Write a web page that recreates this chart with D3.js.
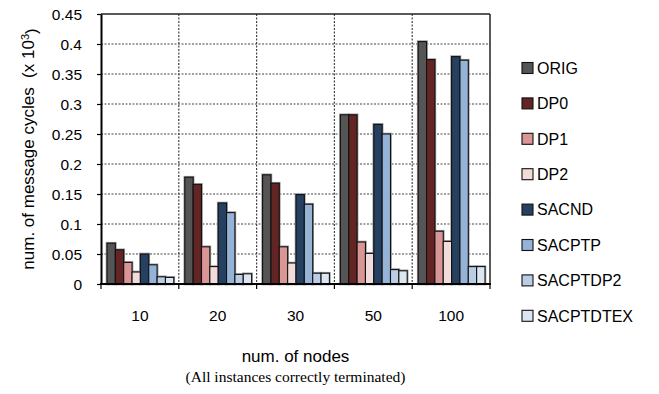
<!DOCTYPE html>
<html>
<head>
<meta charset="utf-8">
<script src="https://cdn.jsdelivr.net/npm/d3@7"></script>
<style>
  html, body { margin: 0; padding: 0; background: #fff; }
  svg { display: block; }
  text { font-family: "Liberation Sans", Arial, Helvetica, sans-serif; fill: #000; }
</style>
</head>
<body>
<svg id="chart" width="659" height="394"></svg>
<script>
// Message cycles (x 10^3) per node count, for each algorithm variant
const categories = ["10", "20", "30", "50", "100"];
const seriesNames = ["ORIG", "DP0", "DP1", "DP2", "SACND", "SACPTP", "SACPTDP2", "SACPTDTEX"];
const ORIG      = [0.068, 0.178, 0.182, 0.282, 0.404];
const DP0       = [0.057, 0.166, 0.168, 0.282, 0.374];
const DP1       = [0.036, 0.062, 0.062, 0.070, 0.088];
const DP2       = [0.020, 0.029, 0.035, 0.051, 0.071];
const SACND     = [0.050, 0.135, 0.149, 0.266, 0.379];
const SACPTP    = [0.032, 0.119, 0.133, 0.250, 0.373];
const SACPTDP2  = [0.012, 0.016, 0.018, 0.024, 0.029];
const SACPTDTEX = [0.011, 0.017, 0.018, 0.022, 0.029];
const yTicks = [0, 0.05, 0.1, 0.15, 0.2, 0.25, 0.3, 0.35, 0.4, 0.45];
const colors = ["#555555", "#632523", "#d99694", "#f2dcdb", "#254061", "#95b3d7", "#b9cde5", "#dce6f2"];

const seriesValues = [ORIG, DP0, DP1, DP2, SACND, SACPTP, SACPTDP2, SACPTDTEX];

const svg = d3.select("#chart");
const plotLeft = 101, plotRight = 490, plotTop = 14, plotBottom = 284;

const x0 = d3.scaleBand().domain(categories).range([plotLeft, plotRight]).padding(0);
const x1 = d3.scaleBand().domain(seriesNames)
  .range([6, x0.bandwidth() - 5]).padding(0);
const y = d3.scaleLinear().domain([0, 0.45]).range([plotBottom, plotTop]);

// Dotted grid: horizontal at each tick, vertical between node groups
const grid = svg.append("g");
grid.selectAll("line.h").data(yTicks.filter(t => t > 0 && t < 0.45)).join("line")
  .attr("x1", plotLeft).attr("x2", plotRight)
  .attr("y1", d => y(d)).attr("y2", d => y(d))
  .attr("stroke", "#444").attr("stroke-width", 1.2).attr("stroke-dasharray", "2,1.5");
grid.selectAll("line.v").data(categories.slice(1)).join("line")
  .attr("x1", d => x0(d)).attr("x2", d => x0(d))
  .attr("y1", plotTop).attr("y2", plotBottom)
  .attr("stroke", "#444").attr("stroke-width", 1.2).attr("stroke-dasharray", "2,1.5");

// Plot frame top and right
svg.append("line").attr("x1", plotLeft).attr("x2", plotRight).attr("y1", plotTop).attr("y2", plotTop)
  .attr("stroke", "#222").attr("stroke-width", 1.5);
svg.append("line").attr("x1", plotRight).attr("x2", plotRight).attr("y1", plotTop).attr("y2", plotBottom)
  .attr("stroke", "#222").attr("stroke-width", 1.5);

// Bars
const groups = svg.append("g").selectAll("g").data(categories).join("g")
  .attr("transform", d => `translate(${x0(d)},0)`);
const barData = ci => seriesNames.map((s, si) => ({ s, si, v: seriesValues[si][ci] }));
groups.each(function (c, ci) {
  const g = d3.select(this);
  const data = barData(ci);
  g.selectAll("rect.halo").data(data).join("rect").attr("class", "halo")
    .attr("x", d => x1(d.s)).attr("width", x1.bandwidth())
    .attr("y", d => y(d.v)).attr("height", d => y(0) - y(d.v))
    .attr("fill", "none").attr("stroke", "#9a9a9a").attr("stroke-width", 2.6);
  g.selectAll("rect.bar").data(data).join("rect").attr("class", "bar")
    .attr("x", d => x1(d.s)).attr("width", x1.bandwidth())
    .attr("y", d => y(d.v)).attr("height", d => y(0) - y(d.v))
    .attr("fill", d => colors[d.si]).attr("stroke", "#111").attr("stroke-width", 1.1);
});

// Y axis
const yAxis = d3.axisLeft(y).tickValues(yTicks).tickSize(4).tickSizeOuter(0)
  .tickFormat(d => d === 0 ? "0" : String(+d.toFixed(2)));
const ya = svg.append("g").attr("transform", `translate(${plotLeft},0)`).call(yAxis);
ya.select(".domain").attr("stroke", "#000").attr("stroke-width", 2);
ya.selectAll(".tick line").attr("stroke", "#000").attr("stroke-width", 1.2);
ya.selectAll(".tick text").attr("x", -19).attr("dy", "0.36em")
  .style("font-size", "15.5px").style("font-family", "'Liberation Sans', Arial, sans-serif");

// X axis: ticks at group boundaries, labels centered under groups
const xa = svg.append("g");
xa.append("line").attr("x1", plotLeft - 1).attr("x2", plotRight + 1).attr("y1", plotBottom).attr("y2", plotBottom)
  .attr("stroke", "#000").attr("stroke-width", 2);
const boundaries = categories.map(c => x0(c)).concat([plotRight]);
xa.selectAll("line.t").data(boundaries).join("line")
  .attr("x1", d => d).attr("x2", d => d).attr("y1", plotBottom).attr("y2", plotBottom + 5)
  .attr("stroke", "#000").attr("stroke-width", 1.2);
xa.selectAll("text").data(categories).join("text")
  .attr("x", d => x0(d) + x0.bandwidth() / 2).attr("y", 321)
  .attr("text-anchor", "middle").style("font-size", "15.5px").text(d => d);

// Axis titles
svg.append("text").attr("x", (plotLeft + plotRight) / 2).attr("y", 362)
  .attr("text-anchor", "middle").style("font-size", "17px").text("num. of nodes");
svg.append("text").attr("x", (plotLeft + plotRight) / 2).attr("y", 382)
  .attr("text-anchor", "middle")
  .style("font-family", "'Liberation Serif', 'Times New Roman', serif")
  .style("font-size", "15.5px").text("(All instances correctly terminated)");

const yt = svg.append("text")
  .attr("transform", `translate(34,${(plotTop + plotBottom) / 2}) rotate(-90)`)
  .attr("text-anchor", "middle").style("font-size", "17px");
yt.append("tspan").text("num. of message cycles\u00a0\u00a0(x 10");
yt.append("tspan").attr("dy", "-0.45em").style("font-size", "11px").text("3");
yt.append("tspan").attr("dy", "0.45em").text(")");

// Legend
const legend = svg.append("g").selectAll("g").data(seriesNames).join("g")
  .attr("transform", (d, i) => `translate(522,${68 + i * 35.4})`);
legend.append("rect").attr("x", 0).attr("y", -5.5).attr("width", 11).attr("height", 11)
  .attr("fill", (d, i) => colors[i]).attr("stroke", "#111").attr("stroke-width", 1.1);
legend.append("text").attr("x", 15).attr("y", 0).attr("dy", "0.36em")
  .style("font-size", "16px").text(d => d);
</script>
</body>
</html>
